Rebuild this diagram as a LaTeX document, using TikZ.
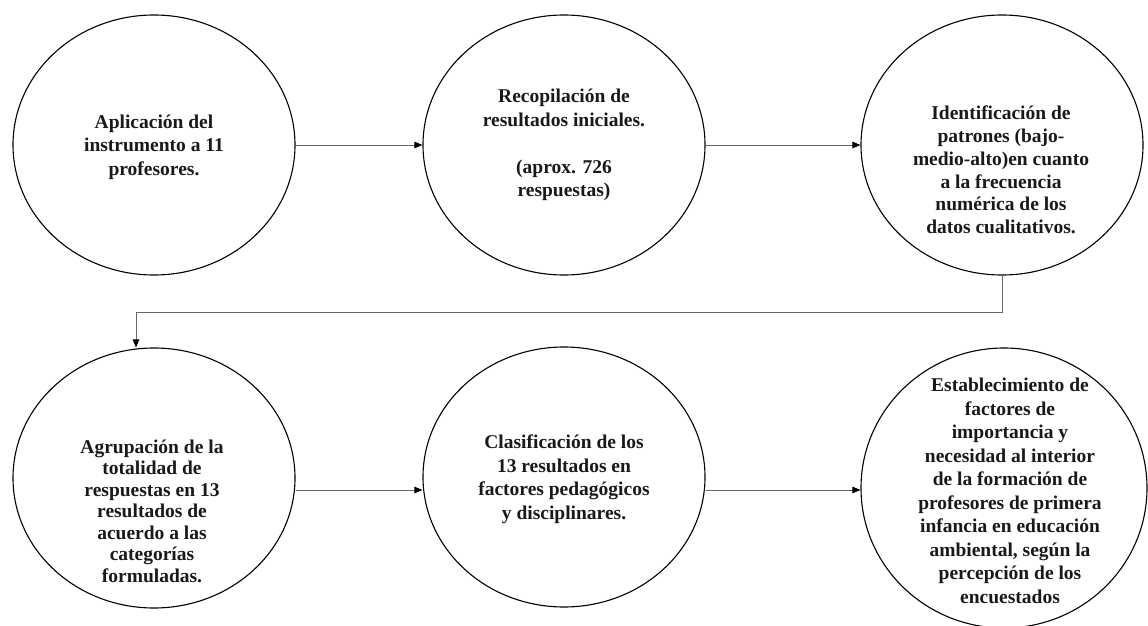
\documentclass[tikz,border=0pt]{standalone}
\usepackage{fontspec}
\setmainfont{Liberation Serif}
\usetikzlibrary{arrows.meta,shapes.geometric}

\tikzset{
  stepcircle/.style={draw=black, line width=1.1pt, ellipse, inner sep=0pt,
    minimum width=282pt, minimum height=260pt},
  steptext/.style={align=center, text=black!90, inner sep=0pt,
    font=\bfseries\fontsize{19.5}{23.5}\selectfont},
  conn/.style={draw=black!60, line width=0.9pt,
    -{Triangle[length=8pt,width=6.5pt,fill=black,color=black]}},
}

\begin{document}
\begin{tikzpicture}[x=1pt,y=-1pt]
\useasboundingbox (0,0) rectangle (1148,626);
\clip (0,0) rectangle (1148,626);

% upper row
\node[stepcircle] (c1) at (154,145) {};
\node[stepcircle] (c2) at (564,145) {};
\node[stepcircle] (c3) at (1002,145) {};
% lower row
\node[stepcircle] (c4) at (154,478) {};
\node[stepcircle] (c5) at (564,477) {};
\node[stepcircle, minimum width=286pt, minimum height=280pt] (c6) at (1004,488) {};

% texts
\node[steptext] (t1) at (154,147) {Aplicación del\\instrumento a 11\\profesores.};
\node[steptext] (t2) at (564,145) {Recopilación de\\resultados iniciales.\\[23.5pt](aprox. 726\\respuestas)};
\node[steptext, font=\bfseries\fontsize{19.5}{22.8}\selectfont] (t3) at (1001,170)
  {Identificación de\\patrones (bajo-\\medio-alto)en cuanto\\a la frecuencia\\numérica de los\\datos cualitativos.};
\node[steptext, font=\bfseries\fontsize{19.5}{21.5}\selectfont] (t4) at (152,511)
  {Agrupación de la\\totalidad de\\respuestas en 13\\resultados de\\acuerdo a las\\categorías\\formuladas.};
\node[steptext] (t5) at (564,479)
  {Clasificación de los\\13 resultados en\\factores pedagógicos\\y disciplinares.};
\node[steptext] (t6) at (1010,491)
  {Establecimiento de\\factores de\\importancia y\\necesidad al interior\\de la formación de\\profesores de primera\\infancia en educación\\ambiental, según la\\percepción de los\\encuestados};

% connectors
\coordinate (k2) at (136,312);
\coordinate (r) at (0,490);
\draw[conn] (c1) -- (c2);
\draw[conn] (c2) -- (c3);
\draw[conn] (c3.south) |- (k2) -- (c4.north -| k2);
\draw[conn] (c4.east |- r) -- (c5.west |- r);
\draw[conn] (c5.east |- r) -- (c6.west |- r);
\end{tikzpicture}
\end{document}
